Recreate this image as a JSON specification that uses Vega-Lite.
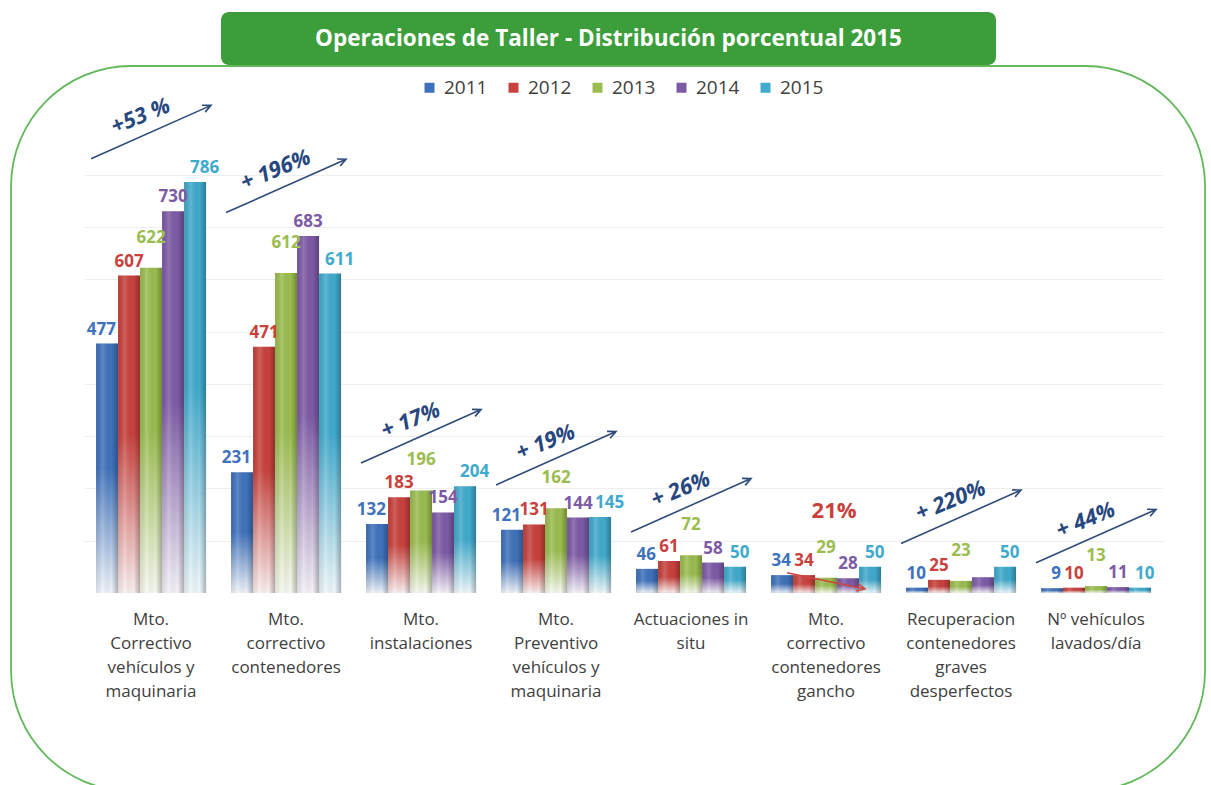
{
  "$schema": "https://vega.github.io/schema/vega-lite/v6.json",
  "background": "white",
  "padding": {"left": 10, "top": 12, "right": 0, "bottom": 0},
  "config": {"font": "Open Sans"},
  "datasets": {
    "ops": [
      {"category": "Mto.\nCorrectivo\nvehículos y\nmaquinaria", "year": "2011", "value": 477},
      {"category": "Mto.\nCorrectivo\nvehículos y\nmaquinaria", "year": "2012", "value": 607},
      {"category": "Mto.\nCorrectivo\nvehículos y\nmaquinaria", "year": "2013", "value": 622},
      {"category": "Mto.\nCorrectivo\nvehículos y\nmaquinaria", "year": "2014", "value": 730},
      {"category": "Mto.\nCorrectivo\nvehículos y\nmaquinaria", "year": "2015", "value": 786},
      {"category": "Mto.\ncorrectivo\ncontenedores", "year": "2011", "value": 231},
      {"category": "Mto.\ncorrectivo\ncontenedores", "year": "2012", "value": 471},
      {"category": "Mto.\ncorrectivo\ncontenedores", "year": "2013", "value": 612},
      {"category": "Mto.\ncorrectivo\ncontenedores", "year": "2014", "value": 683},
      {"category": "Mto.\ncorrectivo\ncontenedores", "year": "2015", "value": 611},
      {"category": "Mto.\ninstalaciones", "year": "2011", "value": 132},
      {"category": "Mto.\ninstalaciones", "year": "2012", "value": 183},
      {"category": "Mto.\ninstalaciones", "year": "2013", "value": 196},
      {"category": "Mto.\ninstalaciones", "year": "2014", "value": 154},
      {"category": "Mto.\ninstalaciones", "year": "2015", "value": 204},
      {"category": "Mto.\nPreventivo\nvehículos y\nmaquinaria", "year": "2011", "value": 121},
      {"category": "Mto.\nPreventivo\nvehículos y\nmaquinaria", "year": "2012", "value": 131},
      {"category": "Mto.\nPreventivo\nvehículos y\nmaquinaria", "year": "2013", "value": 162},
      {"category": "Mto.\nPreventivo\nvehículos y\nmaquinaria", "year": "2014", "value": 144},
      {"category": "Mto.\nPreventivo\nvehículos y\nmaquinaria", "year": "2015", "value": 145},
      {"category": "Actuaciones in\nsitu", "year": "2011", "value": 46},
      {"category": "Actuaciones in\nsitu", "year": "2012", "value": 61},
      {"category": "Actuaciones in\nsitu", "year": "2013", "value": 72},
      {"category": "Actuaciones in\nsitu", "year": "2014", "value": 58},
      {"category": "Actuaciones in\nsitu", "year": "2015", "value": 50},
      {"category": "Mto.\ncorrectivo\ncontenedores\ngancho", "year": "2011", "value": 34},
      {"category": "Mto.\ncorrectivo\ncontenedores\ngancho", "year": "2012", "value": 34},
      {"category": "Mto.\ncorrectivo\ncontenedores\ngancho", "year": "2013", "value": 29},
      {"category": "Mto.\ncorrectivo\ncontenedores\ngancho", "year": "2014", "value": 28},
      {"category": "Mto.\ncorrectivo\ncontenedores\ngancho", "year": "2015", "value": 50},
      {"category": "Recuperacion\ncontenedores\ngraves\ndesperfectos", "year": "2011", "value": 10},
      {"category": "Recuperacion\ncontenedores\ngraves\ndesperfectos", "year": "2012", "value": 25},
      {"category": "Recuperacion\ncontenedores\ngraves\ndesperfectos", "year": "2013", "value": 23},
      {"category": "Recuperacion\ncontenedores\ngraves\ndesperfectos", "year": "2014", "value": 30},
      {"category": "Recuperacion\ncontenedores\ngraves\ndesperfectos", "year": "2015", "value": 50},
      {"category": "Nº vehículos\nlavados/día", "year": "2011", "value": 9},
      {"category": "Nº vehículos\nlavados/día", "year": "2012", "value": 10},
      {"category": "Nº vehículos\nlavados/día", "year": "2013", "value": 13},
      {"category": "Nº vehículos\nlavados/día", "year": "2014", "value": 11},
      {"category": "Nº vehículos\nlavados/día", "year": "2015", "value": 10}
    ],
    "trend": [
      {"category": "Mto.\nCorrectivo\nvehículos y\nmaquinaria", "change": "+53 %", "trend": "up"},
      {"category": "Mto.\ncorrectivo\ncontenedores", "change": "+ 196%", "trend": "up"},
      {"category": "Mto.\ninstalaciones", "change": "+ 17%", "trend": "up"},
      {"category": "Mto.\nPreventivo\nvehículos y\nmaquinaria", "change": "+ 19%", "trend": "up"},
      {"category": "Actuaciones in\nsitu", "change": "+ 26%", "trend": "up"},
      {"category": "Mto.\ncorrectivo\ncontenedores\ngancho", "change": "21%", "trend": "down"},
      {"category": "Recuperacion\ncontenedores\ngraves\ndesperfectos", "change": "+ 220%", "trend": "up"},
      {"category": "Nº vehículos\nlavados/día", "change": "+ 44%", "trend": "up"}
    ]
  },
  "spacing": 0,
  "center": true,
  "vconcat": [
    {
      "width": 775,
      "height": 53,
      "view": {"fill": "#3c9e3a", "stroke": null, "cornerRadius": 8},
      "data": {"values": [{"title": "Operaciones de Taller - Distribución porcentual 2015"}]},
      "mark": {"type": "text", "color": "white", "fontSize": 22.5, "fontWeight": "bold", "font": "Open Sans"},
      "encoding": {"text": {"field": "title"}}
    },
    {
      "width": 1194,
      "height": 725,
      "view": {"stroke": "#62b85a", "strokeWidth": 1.8, "cornerRadius": 120, "fill": null},
      "data": {"name": "ops"},
      "encoding": {
        "x": {
          "field": "category",
          "type": "nominal",
          "sort": null,
          "scale": {"range": [72.5, 1152.5], "paddingInner": 0.185, "paddingOuter": 0.0925},
          "axis": {
            "title": null,
            "orient": "bottom",
            "offset": -198,
            "domain": false,
            "ticks": false,
            "grid": false,
            "labelAngle": 0,
            "labelAlign": "center",
            "labelBaseline": "top",
            "labelPadding": 18,
            "labelFont": "Open Sans",
            "labelFontSize": 17,
            "labelColor": "#404040",
            "labelLineHeight": 24,
            "labelLimit": 0,
            "labelExpr": "split(datum.value, '\\n')"
          }
        },
        "y": {
          "field": "value",
          "type": "quantitative",
          "scale": {"domain": [-379, 1008], "nice": false, "zero": false},
          "axis": {
            "title": null,
            "labels": false,
            "ticks": false,
            "domain": false,
            "grid": true,
            "gridColor": "#eeeeee",
            "values": [100, 200, 300, 400, 500, 600, 700, 800]
          }
        }
      },
      "layer": [
        {
          "mark": {"type": "bar"},
          "encoding": {
            "xOffset": {"field": "year", "type": "nominal", "scale": {"paddingInner": 0}},
            "y2": {"datum": 0},
            "color": {
              "field": "year",
              "type": "nominal",
              "scale": {
                "domain": ["2011", "2012", "2013", "2014", "2015"],
                "range": ["#3f72bc", "#c8413c", "#9bbd4f", "#7d5aa6", "#40aacd"]
              },
              "legend": {
                "title": null,
                "orient": "none",
                "legendX": 409,
                "legendY": 66,
                "direction": "horizontal",
                "symbolType": "square",
                "symbolSize": 100,
                "symbolOpacity": 1,
                "symbolStrokeWidth": 0,
                "labelFont": "Open Sans",
                "labelFontSize": 19,
                "labelColor": "#404040",
                "labelOffset": 5,
                "columnPadding": 16,
                "padding": 0
              }
            }
          }
        },
        {
          "mark": {
            "type": "bar",
            "fill": {
              "gradient": "linear",
              "x1": 0, "y1": 0, "x2": 0, "y2": 1,
              "stops": [
                {"offset": 0, "color": "rgba(255,255,255,0)"},
                {"offset": 0.5, "color": "rgba(255,255,255,0)"},
                {"offset": 1, "color": "rgba(255,255,255,0.92)"}
              ]
            }
          },
          "encoding": {
            "xOffset": {"field": "year", "type": "nominal"},
            "y2": {"datum": 0}
          }
        },
        {
          "mark": {
            "type": "bar",
            "fill": {
              "gradient": "linear",
              "x1": 0, "y1": 0, "x2": 1, "y2": 0,
              "stops": [
                {"offset": 0, "color": "rgba(0,0,0,0.08)"},
                {"offset": 0.3, "color": "rgba(255,255,255,0.16)"},
                {"offset": 0.7, "color": "rgba(0,0,0,0)"},
                {"offset": 1, "color": "rgba(0,0,0,0.28)"}
              ]
            }
          },
          "encoding": {
            "xOffset": {"field": "year", "type": "nominal"},
            "y2": {"datum": 0}
          }
        },
        {
          "transform": [{"filter": "datum.year == '2011'"}],
          "mark": {"type": "text", "fontSize": 17, "fontWeight": "bold", "font": "Open Sans", "baseline": "bottom", "align": "right", "dx": 9, "dy": -5},
          "encoding": {
            "xOffset": {"field": "year", "type": "nominal"},
            "text": {"field": "value", "type": "quantitative"},
            "color": {"field": "year", "type": "nominal"}
          }
        },
        {
          "transform": [
            {"filter": "datum.year == '2012' || datum.year == '2014'"},
            {"filter": "!(datum.year == '2014' && indexof(datum.category, 'Recuperacion') == 0)"}
          ],
          "mark": {"type": "text", "fontSize": 17, "fontWeight": "bold", "font": "Open Sans", "baseline": "bottom", "dy": -5},
          "encoding": {
            "xOffset": {"field": "year", "type": "nominal"},
            "text": {"field": "value", "type": "quantitative"},
            "color": {"field": "year", "type": "nominal"}
          }
        },
        {
          "transform": [{"filter": "datum.year == '2013'"}],
          "mark": {"type": "text", "fontSize": 17, "fontWeight": "bold", "font": "Open Sans", "baseline": "bottom", "dy": -21},
          "encoding": {
            "xOffset": {"field": "year", "type": "nominal"},
            "text": {"field": "value", "type": "quantitative"},
            "color": {"field": "year", "type": "nominal"}
          }
        },
        {
          "transform": [{"filter": "datum.year == '2015'"}],
          "mark": {"type": "text", "fontSize": 17, "fontWeight": "bold", "font": "Open Sans", "baseline": "bottom", "align": "left", "dx": -5, "dy": -5},
          "encoding": {
            "xOffset": {"field": "year", "type": "nominal"},
            "text": {"field": "value", "type": "quantitative"},
            "color": {"field": "year", "type": "nominal"}
          }
        },
        {
          "transform": [
            {"joinaggregate": [{"op": "max", "field": "value", "as": "gmax"}], "groupby": ["category"]},
            {"filter": "datum.year == '2015'"},
            {"lookup": "category", "from": {"data": {"name": "trend"}, "key": "category", "fields": ["change", "trend"]}},
            {"filter": "datum.trend == 'up'"}
          ],
          "mark": {
            "type": "text",
            "fontSize": 22,
            "fontWeight": "bold",
            "fontStyle": "italic",
            "font": "Open Sans",
            "color": "#27477e",
            "angle": 338,
            "dx": 15,
            "dy": -65
          },
          "encoding": {
            "y": {"field": "gmax", "type": "quantitative"},
            "text": {"field": "change"}
          }
        },
        {
          "transform": [
            {"joinaggregate": [{"op": "max", "field": "value", "as": "gmax"}], "groupby": ["category"]},
            {"filter": "datum.year == '2015'"},
            {"lookup": "category", "from": {"data": {"name": "trend"}, "key": "category", "fields": ["change", "trend"]}},
            {"filter": "datum.trend == 'up'"}
          ],
          "mark": {
            "type": "point",
            "shape": "M-1,-0.388L1,-1.278M0.85,-1.281L1,-1.278L0.902,-1.165",
            "size": 14400,
            "filled": false,
            "strokeWidth": 1.6,
            "opacity": 1,
            "color": "#2f4b7c"
          },
          "encoding": {
            "y": {"field": "gmax", "type": "quantitative"}
          }
        },
        {
          "transform": [
            {"joinaggregate": [{"op": "max", "field": "value", "as": "gmax"}], "groupby": ["category"]},
            {"filter": "datum.year == '2015'"},
            {"lookup": "category", "from": {"data": {"name": "trend"}, "key": "category", "fields": ["change", "trend"]}},
            {"filter": "datum.trend == 'down'"}
          ],
          "mark": {
            "type": "text",
            "fontSize": 22,
            "fontWeight": "bold",
            "font": "Open Sans",
            "color": "#c8413c",
            "dx": 8,
            "dy": -56
          },
          "encoding": {
            "y": {"field": "gmax", "type": "quantitative"},
            "text": {"field": "change"}
          }
        },
        {
          "transform": [
            {"joinaggregate": [{"op": "max", "field": "value", "as": "gmax"}], "groupby": ["category"]},
            {"filter": "datum.year == '2015'"},
            {"lookup": "category", "from": {"data": {"name": "trend"}, "key": "category", "fields": ["change", "trend"]}},
            {"filter": "datum.trend == 'down'"}
          ],
          "mark": {
            "type": "point",
            "shape": "M-0.65,0.1L0.65,0.37M0.53,0.28L0.65,0.37L0.504,0.404",
            "size": 14400,
            "filled": false,
            "strokeWidth": 1.6,
            "opacity": 1,
            "color": "#d0453f"
          },
          "encoding": {
            "y": {"field": "gmax", "type": "quantitative"}
          }
        }
      ]
    }
  ]
}
